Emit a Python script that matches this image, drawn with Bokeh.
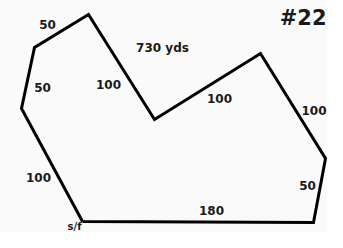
from bokeh.plotting import figure
from bokeh.models import ColumnDataSource, Range1d
from bokeh.core.properties import value
from bokeh.embed import file_html
from bokeh.resources import INLINE

# Course outline vertices (start/finish first)
course_x = [82, 313, 325, 260, 154, 88, 34, 21, 82]
course_y = [11, 10, 74, 179, 113, 218, 185, 124, 11]

# Leg length labels
leg_labels = ["180", "50", "100", "100", "50", "50", "100"]
leg_label_x = [211, 307, 219, 108, 47, 42, 38]
leg_label_y = [22, 47, 134, 148, 208, 145, 55]

right_leg_label = "100"
total_label = "730 yds"
course_no = "#22"
start_label = "s/f"

p = figure(width=327, height=232, output_backend="svg", toolbar_location=None,
           x_range=Range1d(0, 327), y_range=Range1d(0, 232), min_border=0)
p.axis.visible = False
p.grid.visible = False
p.outline_line_color = None
p.background_fill_color = "#fafafa"
p.border_fill_color = "#fafafa"

p.line(course_x, course_y, line_color="black", line_width=3, line_join="miter")

font = value("DejaVu Sans")
col = "#1a1a1a"
src = ColumnDataSource(dict(x=leg_label_x, y=leg_label_y, t=leg_labels))
p.text("x", "y", text="t", source=src, text_font=font, text_font_size="12px",
       text_font_style="bold", text_align="center", text_baseline="middle", text_color=col)
p.text([326], [122], text=[right_leg_label], text_font=font, text_font_size="12px",
       text_font_style="bold", text_align="right", text_baseline="middle", text_color=col)
p.text([162], [185], text=[total_label], text_font=font, text_font_size="12px",
       text_font_style="bold", text_align="center", text_baseline="middle", text_color=col)
p.text([74], [1], text=[start_label], text_font=font, text_font_size="10px",
       text_font_style="bold", text_align="center", text_baseline="bottom", text_color=col)
p.text([326], [215], text=[course_no], text_font=font, text_font_size="21px",
       text_font_style="bold", text_align="right", text_baseline="middle", text_color=col)

open("out.html", "w").write(file_html(p, INLINE))
